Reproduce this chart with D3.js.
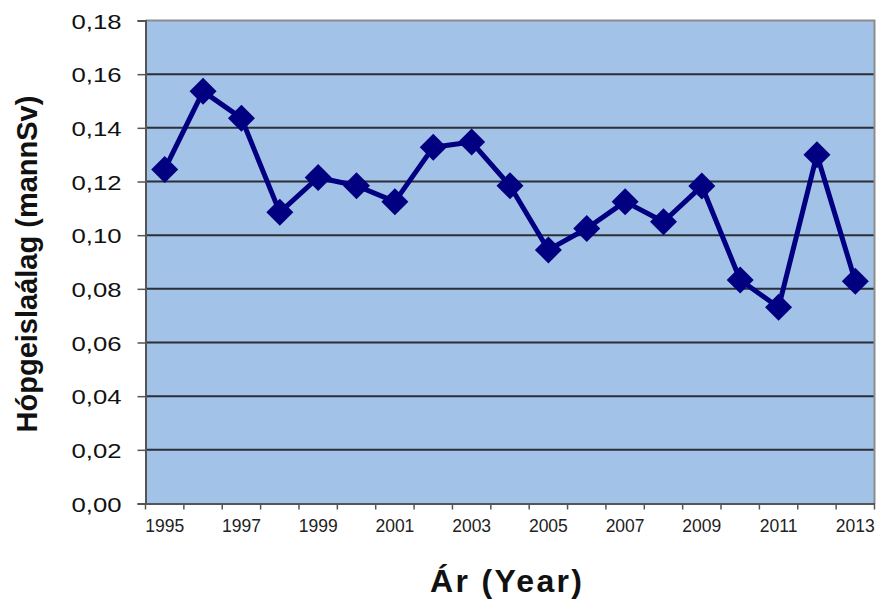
<!DOCTYPE html>
<html><head><meta charset="utf-8">
<script src="https://cdn.jsdelivr.net/npm/d3@7"></script>
<style>body{margin:0;background:#fff}svg{display:block}text{font-family:"Liberation Sans",Arial,sans-serif}</style>
</head><body>
<svg id="c" width="879" height="607"></svg>
<script>
const years = ["1995","1996","1997","1998","1999","2000","2001","2002","2003","2004","2005","2006","2007","2008","2009","2010","2011","2012","2013"];
const values = [0.1245,0.1536,0.1436,0.1085,0.1215,0.1184,0.1125,0.1328,0.1347,0.1184,0.0945,0.1025,0.1125,0.1050,0.1183,0.0833,0.0731,0.1300,0.0828];
const yTicks = [0,0.02,0.04,0.06,0.08,0.10,0.12,0.14,0.16,0.18];
const xLabels = ["1995","1997","1999","2001","2003","2005","2007","2009","2011","2013"];
const yTitle = "Hópgeislaálag (mannSv)";
const xTitle = "Ár (Year)";

const svg = d3.select("#c");
const L = 145.5, R = 874.5, T = 20.5, B = 503.5;
const x = d3.scaleBand().domain(years).range([L, R]);
const y = d3.scaleLinear().domain([0, 0.18]).range([B, T]);

svg.append("rect").attr("x", L).attr("y", T).attr("width", R - L).attr("height", B - T).attr("fill", "#A3C2E7");

svg.append("g").selectAll("line").data(yTicks.filter(d => d > 0 && d < 0.18)).join("line")
  .attr("x1", L).attr("x2", R).attr("y1", d => y(d)).attr("y2", d => y(d))
  .attr("stroke", "#2a2f38").attr("stroke-width", 2);

svg.append("path").attr("d", `M${L},${T}H${R}V${B}`).attr("fill", "none").attr("stroke", "#8c8c8c").attr("stroke-width", 2);

const fmt = d => d3.format(".2f")(d).replace(".", ",");
const yAxis = svg.append("g").attr("transform", `translate(${L},0)`)
  .call(d3.axisLeft(y).tickValues(yTicks).tickSize(8).tickPadding(0).tickFormat(fmt));
yAxis.select(".domain").attr("stroke", "#555").attr("stroke-width", 2);
yAxis.selectAll(".tick line").attr("stroke", "#555").attr("stroke-width", 1.5);
yAxis.selectAll(".tick text").attr("x", -24).attr("dy", "0.36em").attr("font-size", 21).attr("fill", "#111")
  .attr("textLength", 50).attr("lengthAdjust", "spacingAndGlyphs");

const xAxis = svg.append("g").attr("transform", `translate(0,${B})`)
  .call(d3.axisBottom(x).tickSize(0).tickFormat(d => xLabels.includes(d) ? d : ""));
xAxis.select(".domain").attr("stroke", "#555").attr("stroke-width", 2);
xAxis.selectAll(".tick text").attr("y", 0).attr("dy", "28").attr("font-size", 17.5).attr("fill", "#222");
const bounds = years.map(d => x(d)).concat([R]);
svg.append("g").selectAll("line").data(bounds).join("line")
  .attr("x1", d => d).attr("x2", d => d).attr("y1", B).attr("y2", B + 6)
  .attr("stroke", "#555").attr("stroke-width", 1.5);

const cx = d => x(d) + x.bandwidth() / 2;
svg.append("path").datum(years)
  .attr("d", d3.line().x(d => cx(d)).y((d, i) => y(values[i])))
  .attr("fill", "none").attr("stroke", "#000080").attr("stroke-width", 5).attr("stroke-linejoin", "round");

svg.append("g").selectAll("path").data(years).join("path")
  .attr("transform", (d, i) => `translate(${cx(d)},${y(values[i])})`)
  .attr("d", "M0,-13.5L13.5,0L0,13.5L-13.5,0Z").attr("fill", "#000080");

svg.append("text").attr("transform", "translate(37,264) rotate(-90)").attr("text-anchor", "middle")
  .attr("font-size", 29).attr("font-weight", "bold").attr("fill", "#111").text(yTitle);
svg.append("text").attr("x", 506).attr("y", 592).attr("text-anchor", "middle")
  .attr("font-size", 32).attr("font-weight", "bold").attr("fill", "#111")
  .attr("textLength", 152).attr("lengthAdjust", "spacing").text(xTitle);
</script>
</body></html>
